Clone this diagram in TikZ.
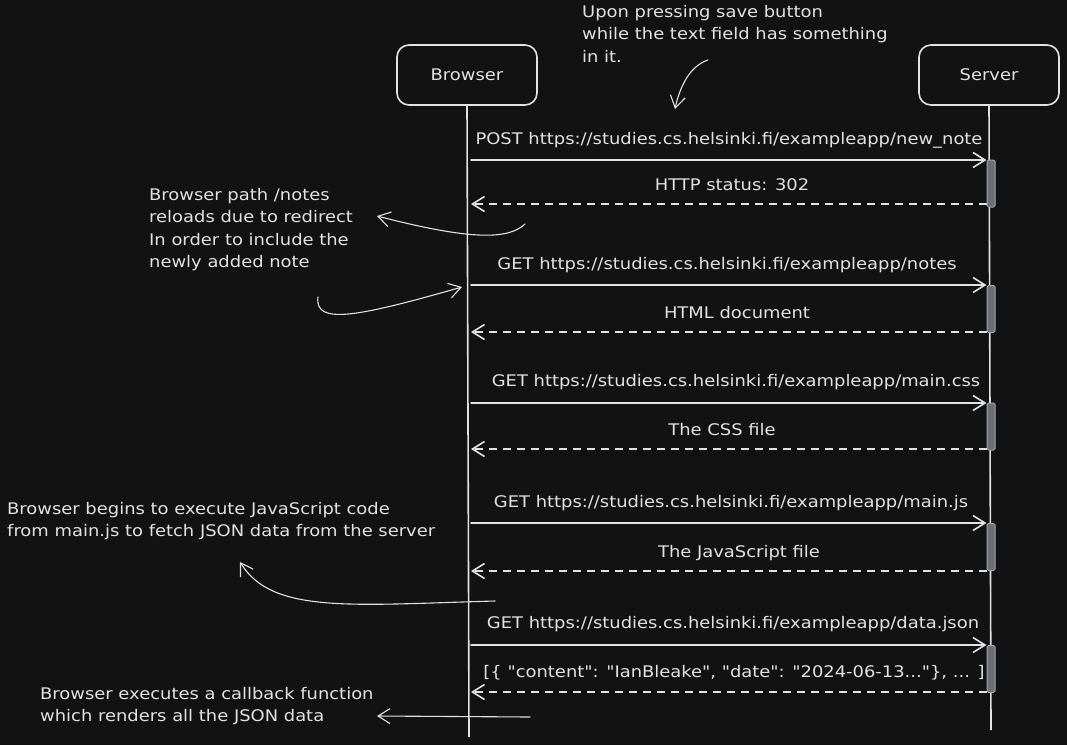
\documentclass[tikz,border=0pt]{standalone}
\usepackage{fontspec}
\setmainfont{DejaVu Sans}[FakeStretch=1.12, Ligatures=TeXOff]
\usetikzlibrary{arrows.meta}
\definecolor{bg}{HTML}{121212}
\definecolor{ink}{HTML}{E2E2E2}
\definecolor{barfill}{HTML}{6B6F76}
\definecolor{barline}{HTML}{A3A6AB}

\begin{document}
\begin{tikzpicture}[x=1pt,y=-1pt,
  stroke/.style={draw=ink, line width=1.6pt, line cap=round, line join=round},
  actor/.style={stroke, rounded corners=12pt, minimum width=140pt, minimum height=60pt,
    text=ink, font=\fontsize{16}{19}\selectfont},
  lifeline/.style={draw=ink, line width=1.6pt},
  actbar/.style={draw=barline, fill=barfill, line width=1pt, rounded corners=1.5pt,
    minimum width=8pt, minimum height=47pt, inner sep=0pt},
  tip/.style={-{Straight Barb[length=12pt,width=15pt]}},
  call/.style={stroke, tip},
  reply/.style={stroke, tip, dash pattern=on 8pt off 6pt, line cap=butt},
  note/.style={stroke, tip, line width=1.1pt},
  msg/.style={text=ink, font=\fontsize{16}{19}\selectfont, inner sep=0pt, anchor=base},
  remark/.style={text=ink, font=\fontsize{16}{22.5}\selectfont, align=left, inner sep=0pt, anchor=base west},
]
\fill[bg] (0,0) rectangle (1067,745);
\useasboundingbox (0,0) rectangle (1067,745);

% participants
\node[actor] (browser) at (467,75) {Browser};
\node[actor] (server) at (989,75) {Server};
\coordinate (bend) at (469,737);
\coordinate (send) at (991,730);
\draw[lifeline] (browser.south) -- (bend);
\draw[lifeline] (server.south) -- (send);

% activation bars on the server lifeline
\node[actbar] (a1) at (991,183.5) {};
\node[actbar] (a2) at (991,309) {};
\node[actbar] (a3) at (991,426.5) {};
\node[actbar] (a4) at (991,547) {};
\node[actbar] (a5) at (991,669) {};

% points on the browser lifeline
\coordinate (q1) at (471,160);
\coordinate (r1) at (471,204);
\coordinate (q2) at (471,285);
\coordinate (r2) at (471,332);
\coordinate (q3) at (471,403);
\coordinate (r3) at (471,449);
\coordinate (q4) at (471,523);
\coordinate (r4) at (471,571);
\coordinate (q5) at (471,645);
\coordinate (r5) at (471,692);

% requests and responses
\draw[call] (q1) -- (a1.west |- q1);
\draw[reply] (a1.west |- r1) -- (r1);
\draw[call] (q2) -- (a2.west |- q2);
\draw[reply] (a2.west |- r2) -- (r2);
\draw[call] (q3) -- (a3.west |- q3);
\draw[reply] (a3.west |- r3) -- (r3);
\draw[call] (q4) -- (a4.west |- q4);
\draw[reply] (a4.west |- r4) -- (r4);
\draw[call] (q5) -- (a5.west |- q5);
\draw[reply] (a5.west |- r5) -- (r5);

% message labels (placed on their baselines)
\node[msg] (l1) at (729,144) {POST https://studies.cs.helsinki.fi/exampleapp/new\_note};
\node[msg] (l2) at (732,190) {HTTP status: 302};
\node[msg] (l3) at (727,269) {GET https://studies.cs.helsinki.fi/exampleapp/notes};
\node[msg] (l4) at (737,318) {HTML document};
\node[msg] (l5) at (736,386) {GET https://studies.cs.helsinki.fi/exampleapp/main.css};
\node[msg] (l6) at (722,435) {The CSS file};
\node[msg] (l7) at (731,507) {GET https://studies.cs.helsinki.fi/exampleapp/main.js};
\node[msg] (l8) at (739,557) {The JavaScript file};
\node[msg] (l9) at (733,628) {GET https://studies.cs.helsinki.fi/exampleapp/data.json};
\node[msg] (l10) at (734,677) {[\{ "content": "IanBleake", "date": "2024-06-13..."\}, ... ]};

% annotations (anchored on the baseline of their last line)
\node[remark] (n1) at (582,62) {Upon pressing save button\\while the text field has something\\in it.};
\node[remark] (n2) at (149,267.5) {Browser path /notes\\reloads due to redirect\\In order to include the\\newly added note};
\node[remark] (n3) at (7,536.5) {Browser begins to execute JavaScript code\\from main.js to fetch JSON data from the server};
\node[remark] (n4) at (40,721.5) {Browser executes a callback function\\which renders all the JSON data};

% annotation pointers
\coordinate (p1s) at (708,60);
\coordinate (p1e) at (675,109);
\draw[note] (p1s) .. controls (690,66) and (680,86) .. (p1e);

\coordinate (p2s) at (525,224);
\coordinate (p2e) at (377,216);
\draw[note] (p2s) .. controls (508,240) and (470,240) .. (p2e);

\coordinate (p3s) at (318,297);
\coordinate (p3e) at (462,287);
\draw[note] (p3s) .. controls (314,326) and (360,316) .. (p3e);

\coordinate (p4s) at (495,601);
\coordinate (p4e) at (240,562);
\draw[note] (p4s) .. controls (350,605) and (272,614) .. (p4e);

\coordinate (p5s) at (530,717);
\coordinate (p5e) at (377,716);
\draw[note] (p5s) -- (p5e);
\end{tikzpicture}
\end{document}
